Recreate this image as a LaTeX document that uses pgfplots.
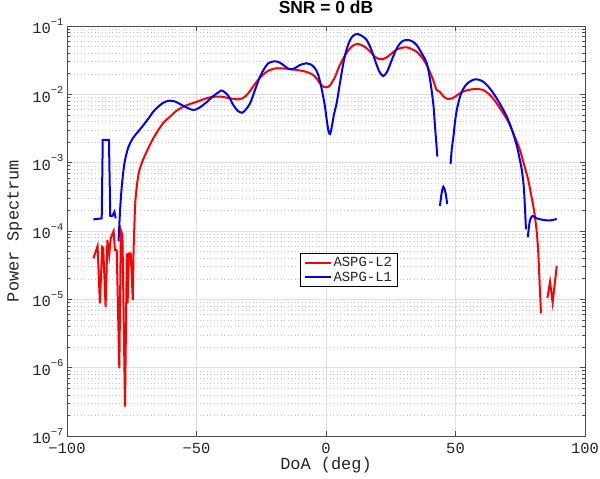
\documentclass[border=0pt]{standalone}
\usepackage{fontspec}
\setmainfont{Liberation Sans}
\setmonofont{Liberation Mono}
\usepackage{pgfplots}
\pgfplotsset{compat=1.18}

% 10^k label in the mono font
\newcommand{\dec}[1]{10\raisebox{8.5bp}{\fontsize{10.5}{10.5}\selectfont #1}}

\begin{document}
\begin{tikzpicture}
\path[use as bounding box] (-67bp,-43bp) rectangle (533bp,436bp);
\begin{axis}[
    scale only axis,
    width=518bp, height=410bp,
    ymode=log,
    xmin=-100, xmax=100,
    ymin=1e-7, ymax=1e-1,
    xtick={-100,-50,0,50,100},
    xticklabels={−100,−50,0,50,100},
    ytick={1e-7,1e-6,1e-5,1e-4,1e-3,1e-2,1e-1},
    yticklabels={\dec{−7},\dec{−6},\dec{−5},\dec{−4},\dec{−3},\dec{−2},\dec{−1}},
    minor ytick={2e-7,3e-7,4e-7,5e-7,6e-7,7e-7,8e-7,9e-7,
                 2e-6,3e-6,4e-6,5e-6,6e-6,7e-6,8e-6,9e-6,
                 2e-5,3e-5,4e-5,5e-5,6e-5,7e-5,8e-5,9e-5,
                 2e-4,3e-4,4e-4,5e-4,6e-4,7e-4,8e-4,9e-4,
                 2e-3,3e-3,4e-3,5e-3,6e-3,7e-3,8e-3,9e-3,
                 2e-2,3e-2,4e-2,5e-2,6e-2,7e-2,8e-2,9e-2},
    xmajorgrids, ymajorgrids, yminorgrids,
    major grid style={gray!25, line width=0.5bp},
    minor grid style={gray!45, line width=0.5bp, dash pattern=on 1bp off 2.5bp},
    tick align=inside,
    major tick length=5.5bp, minor tick length=3bp,
    tick style={black!70, line width=0.6bp},
    axis line style={black!70, line width=0.8bp},
    ticklabel style={font=\fontsize{15.5}{17}\ttfamily, text=black!85},
    xticklabel style={anchor=base, yshift=-17.5bp},
    xlabel={DoA (deg)},
    ylabel={Power Spectrum},
    label style={font=\fontsize{17}{19}\ttfamily, text=black!85},
    xlabel style={at={(axis description cs:0.5,-0.0829)}, anchor=base},
    ylabel style={at={(axis description cs:-0.0936,0.5)}, anchor=base},
    title={SNR = 0 dB},
    title style={at={(axis description cs:0.5,1.017)}, anchor=base,
                 font=\fontsize{17.5}{19}\bfseries},
    legend style={at={(axis description cs:0.544,0.405)}, anchor=center,
                  font=\fontsize{14}{15}\ttfamily, text=black!85,
                  draw=black, line width=0.6bp, inner xsep=3bp, inner ysep=2bp,
                  row sep=-0.5bp},
    legend cell align=left,
    legend image code/.code={\draw[#1] (0bp,0bp) -- (26bp,0bp);},
    unbounded coords=jump,
    every axis plot/.append style={line width=2bp},
]
% ASPG-L2, noisy left tail
\addplot[red, forget plot] table {
x y
-89.8 3.98e-5
-88.2 6.02e-5
-87.3 8.73e-6
-86.4 5.82e-5
-86.0 5.57e-5
-85.1 7.78e-6
-84.4 7.38e-5
-83.7 4.46e-5
-83.1 7.82e-5
-82.5 9.04e-5
-82.0 1.00e-4
-81.5 5.27e-5
-80.8 5.27e-5
-79.8 9.8e-7
-79.2 1.03e-4
-78.6 8.73e-5
-77.6 2.69e-7
-76.9 4.71e-5
-76.6 8.73e-6
-76.1 4.71e-5
-75.4 4.71e-5
-74.6 9.77e-6
-74.3 5.27e-5
-73.7 2.54e-4
};
% ASPG-L2, right tail
\addplot[red, forget plot] table {
x y
85.5 1.05e-5
86.5 1.81e-5
87.5 9.0e-6
89.1 3.08e-5
};
% ASPG-L2, main lobe
\addplot[red, smooth] table {
x y
-73.7 2.54e-4
-73.0 4.71e-4
-72.2 7.30e-4
-71.0 1.02e-3
-69.5 1.38e-3
-68.0 1.82e-3
-66.5 2.34e-3
-64.7 3.02e-3
-62.5 3.94e-3
-60.2 4.71e-3
-57.9 5.70e-3
-55.1 6.59e-3
-52.5 7.22e-3
-49.9 7.79e-3
-47.5 8.40e-3
-44.8 9.04e-3
-40.9 9.29e-3
-37.1 8.73e-3
-33.9 8.45e-3
-32.4 8.69e-3
-30.6 9.77e-3
-28.8 1.20e-2
-26.8 1.53e-2
-24.9 1.85e-2
-22.9 2.14e-2
-21.0 2.32e-2
-19.0 2.41e-2
-16.6 2.39e-2
-13.9 2.35e-2
-11.2 2.27e-2
-8.8 2.19e-2
-6.8 2.08e-2
-4.9 1.92e-2
-3.5 1.68e-2
-2.3 1.45e-2
-1.16 1.30e-2
0.27 1.27e-2
1.54 1.35e-2
3.5 1.81e-2
5.0 2.51e-2
6.7 3.37e-2
8.3 4.24e-2
9.9 4.98e-2
11.2 5.36e-2
12.5 5.45e-2
14.1 5.18e-2
15.7 4.72e-2
17.4 4.09e-2
18.9 3.55e-2
20.5 3.29e-2
21.9 3.26e-2
23.6 3.52e-2
25.4 3.98e-2
27.0 4.46e-2
28.6 4.72e-2
30.1 4.88e-2
31.7 4.84e-2
33.4 4.53e-2
35.0 4.21e-2
36.9 3.52e-2
38.9 2.69e-2
40.2 2.08e-2
41.4 1.62e-2
42.7 1.16e-2
44.0 1.08e-2
45.6 9.14e-3
47.2 8.55e-3
48.6 8.69e-3
50.2 9.45e-3
51.7 1.04e-2
54.1 1.14e-2
56.9 1.19e-2
58.7 1.19e-2
60.7 1.16e-2
63.3 9.77e-3
65.9 7.40e-3
68.1 5.51e-3
70.4 3.97e-3
72.6 2.54e-3
74.9 1.53e-3
76.4 9.55e-4
78.1 5.57e-4
79.3 3.25e-4
80.3 2.02e-4
81.3 1.03e-4
81.9 5.27e-5
82.2 3.00e-5
82.6 1.37e-5
83.0 6.24e-6
};
\addlegendentry{ASPG-L2}
% ASPG-L1, left pulse
\addplot[blue, forget plot] table {
x y
-89.8 1.48e-4
-86.6 1.53e-4
-86.2 2.15e-3
-83.8 2.15e-3
-83.3 1.66e-4
-82.5 1.66e-4
-81.7 1.91e-4
-81.2 1.53e-4
};
% ASPG-L1, right tail
\addplot[blue, smooth, forget plot] table {
x y
77.9 8.09e-5
78.4 1.18e-4
78.8 1.45e-4
79.7 1.66e-4
81.4 1.53e-4
84.0 1.45e-4
86.5 1.43e-4
89.1 1.50e-4
};
% ASPG-L1, main lobes
\addplot[blue, smooth] table {
x y
-80.1 7.1e-5
-79.5 2.03e-4
-78.8 4.71e-4
-77.8 9.9e-4
-76.4 1.64e-3
-74.5 2.30e-3
-71.4 3.21e-3
-68.7 4.35e-3
-66.7 5.57e-3
-64.9 6.53e-3
-62.8 7.55e-3
-60.5 8.07e-3
-58.3 7.86e-3
-56.4 7.22e-3
-53.2 6.25e-3
-51.2 5.90e-3
-49.4 6.21e-3
-47.4 6.98e-3
-45.6 7.98e-3
-43.5 9.45e-3
-41.2 1.09e-2
-40.2 1.14e-2
-38.3 1.01e-2
-37.1 8.69e-3
-35.8 6.98e-3
-34.2 5.80e-3
-32.5 5.38e-3
-31.1 5.90e-3
-29.3 7.40e-3
-27.4 1.16e-2
-25.5 1.81e-2
-23.9 2.35e-2
-22.3 2.85e-2
-20.1 3.04e-2
-18.3 2.97e-2
-16.5 2.69e-2
-14.7 2.39e-2
-13.2 2.32e-2
-11.6 2.47e-2
-10.0 2.69e-2
-7.45 2.85e-2
-5.8 2.73e-2
-4.25 2.41e-2
-3.1 1.98e-2
-2.3 1.53e-2
-1.35 1.05e-2
-0.39 6.59e-3
0.39 3.94e-3
0.97 2.90e-3
1.54 2.62e-3
2.3 3.44e-3
3.1 5.15e-3
4.1 7.40e-3
5.4 1.47e-2
6.7 2.85e-2
7.9 4.46e-2
9.3 6.24e-2
10.6 7.26e-2
12.2 7.64e-2
13.9 7.14e-2
15.7 6.24e-2
17.4 4.61e-2
18.9 3.18e-2
20.5 2.19e-2
22.1 1.85e-2
23.7 2.19e-2
25.4 3.18e-2
27.0 4.46e-2
28.6 5.58e-2
30.1 6.14e-2
31.8 6.24e-2
33.4 5.93e-2
35.0 5.27e-2
36.7 4.16e-2
38.9 2.85e-2
40.2 1.62e-2
41.4 7.40e-3
42.1 3.36e-3
43.0 1.23e-3
43.5 nan
44.0 2.32e-4
44.6 3.48e-4
45.3 4.45e-4
46.1 3.72e-4
46.8 2.48e-4
47.4 nan
48.1 9.55e-4
48.6 1.64e-3
49.2 2.40e-3
49.8 3.94e-3
50.5 5.90e-3
51.4 8.26e-3
52.4 1.09e-2
53.7 1.32e-2
54.9 1.48e-2
56.2 1.59e-2
57.5 1.66e-2
59.1 1.63e-2
60.7 1.53e-2
62.5 1.32e-2
64.6 1.04e-2
67.2 7.22e-3
69.8 4.71e-3
71.8 3.01e-3
73.6 1.81e-3
74.7 1.17e-3
75.6 7.81e-4
76.3 4.71e-4
76.8 2.27e-4
77.2 1.06e-4
};
\addlegendentry{ASPG-L1}
\end{axis}
\end{tikzpicture}
\end{document}
